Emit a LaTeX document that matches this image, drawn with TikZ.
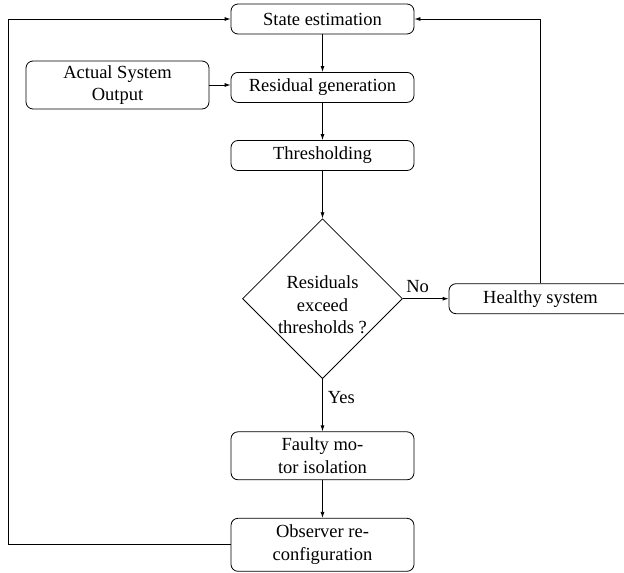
\documentclass[tikz,border=0pt]{standalone}
\usepackage{fontspec}
\setmainfont{Liberation Serif}
\usetikzlibrary{shapes.geometric,arrows.meta}
\begin{document}
\begin{tikzpicture}[x=1pt,y=-1pt,
  font=\fontsize{18.5}{22.5}\selectfont,
  every path/.style={line width=0.8pt},
  box/.style={draw, rounded corners=7pt, minimum width=183pt, minimum height=30pt, align=center, inner sep=2pt},
  dec/.style={draw, diamond, minimum width=160pt, minimum height=160pt, inner sep=0pt},
  arr/.style={-{Latex[length=6pt,width=4pt]}},
  lbl/.style={inner sep=3pt}]
\useasboundingbox (0,0) rectangle (624,573);
\node[box] (se) at (322.5,19) {State estimation};
\node[box, minimum height=48pt] (aso) at (117.5,85) {Actual System\\Output};
\node[box] (rg) at (322.5,87.4) {Residual generation};
\node[box] (th) at (322.5,155.5) {Thresholding};
\node[dec] (dia) at (322.5,298.7) {};
\node[align=center, inner sep=0pt] (diat) at (322.5,305) {Residuals\\exceed\\thresholds ?};
\node[box] (hs) at (540.5,298.7) {Healthy system};
\node[box, minimum height=48pt] (fm) at (322.5,455.8) {Faulty mo-\\tor isolation};
\node[box, minimum height=53pt] (ob) at (322.5,544.8) {Observer re-\\configuration};
\coordinate (cl) at (8.3,544.8);
\coordinate (ct) at (8.3,19);
\coordinate (cr) at (540.5,19);
\draw[arr] (se) -- (rg);
\draw[arr] (aso) -- (aso.east -| rg.west);
\draw[arr] (rg) -- (th);
\draw[arr] (th) -- (dia.north);
\draw[arr] (dia.east) -- node[pos=0, above right, lbl, yshift=3pt]{No} (hs.west);
\draw[arr] (dia.south) -- node[pos=0.35, right, lbl, xshift=2pt]{Yes} (fm.north);
\draw[arr] (fm) -- (ob);
\draw[arr] (ob.west) -- (cl) -- (ct) -- (se.west);
\draw[arr] (hs.north) -- (cr) -- (se.east);
\end{tikzpicture}
\end{document}
